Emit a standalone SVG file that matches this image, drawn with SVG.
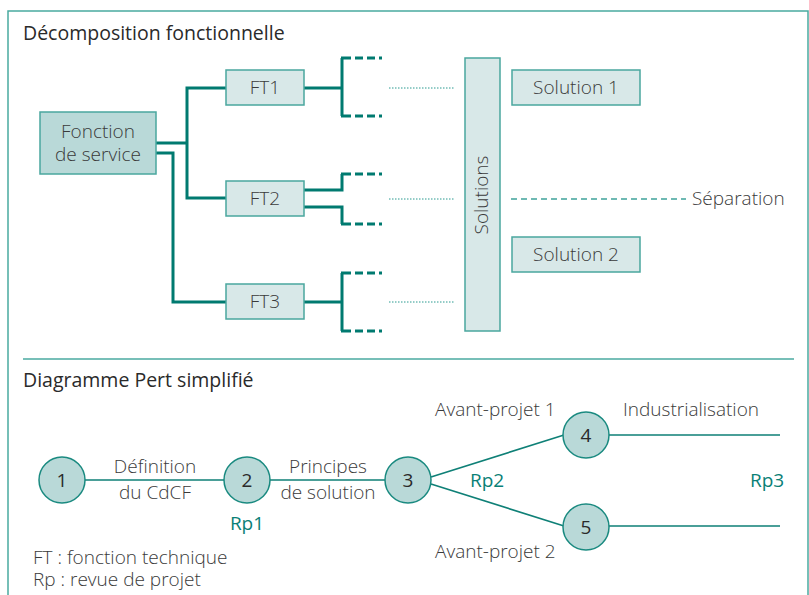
<svg xmlns="http://www.w3.org/2000/svg" width="809" height="595" viewBox="0 0 809 595">
<style>
text{font-family:"Open Sans","Noto Sans","Liberation Sans",sans-serif;fill:#3a3a3a;font-size:19px;font-weight:300}
.h{font-size:19.5px;font-weight:400;fill:#2a2a2a}
.c{text-anchor:middle}
.n{font-weight:400;fill:#2a2a2a}
.t{fill:#0a8076;font-weight:400}
.box{fill:#d8e8e8;stroke:#4aa79e;stroke-width:1.5}
.main{fill:#b9d9d8;stroke:#4aa79e;stroke-width:1.5}
.thick{fill:none;stroke:#007a70;stroke-width:3}
.dash{fill:none;stroke:#007a70;stroke-width:3;stroke-dasharray:8 4}
.dot{stroke:#2a9a90;stroke-width:1;stroke-dasharray:1.5 1.5}
.thin{fill:none;stroke:#0f8077;stroke-width:1.6}
.circ{fill:#b9d9d8;stroke:#1a8a80;stroke-width:1.5}
.frame{fill:none;stroke:#4aaaa0;stroke-width:1.5}
</style>
<g id="frame">
<path class="frame" d="M8,595 V11 H808 V595"/>
<line class="frame" x1="23" y1="359" x2="794" y2="359"/>
</g>
<text class="h" x="23" y="40">Décomposition fonctionnelle</text>
<text class="h" x="23" y="387">Diagramme Pert simplifié</text>
<g id="connectors">
<path class="thick" d="M156,143 H187 M226,88 H187 V198 H226"/>
<path class="thick" d="M156,153 H173 V302 H226"/>
<path class="thick" d="M304,88 H342 M342,58 V116"/>
<path class="thick" d="M304,190 H342 V174 M304,207 H342 V224"/>
<path class="thick" d="M304,302 H342 M342,273 V331"/>
<path class="thick" d="M341,58 H351 M341,116 H351 M341,174 H351 M341,224 H351 M341,273 H351 M341,331 H351"/>
<path class="dash" d="M355,58 H382 M355,116 H382 M355,174 H382 M355,224 H382 M355,273 H382 M355,331 H382"/>
<path class="dot" d="M389,88 H455 M389,199 H455 M389,302 H455"/>
<line x1="511" y1="199" x2="686" y2="199" stroke="#3fa39a" stroke-width="1.5" stroke-dasharray="6 4"/>
<path class="thin" d="M85,480 H224 M270,480 H385 M431,477 L564,435 M431,484 L564,526 M609,435 H780 M609,526 H780"/>
</g>
<g id="fs"><rect class="main" x="40" y="112" width="116" height="62"/><text class="c" x="98" y="138">Fonction</text><text class="c" x="98" y="161">de service</text></g>
<g id="ft1"><rect class="box" x="226" y="70" width="78" height="35"/><text class="c" x="265" y="94">FT1</text></g>
<g id="ft2"><rect class="box" x="226" y="181" width="78" height="35"/><text class="c" x="265" y="205">FT2</text></g>
<g id="ft3"><rect class="box" x="226" y="284" width="78" height="35"/><text class="c" x="265" y="308">FT3</text></g>
<g id="solutions"><rect class="box" x="465" y="58" width="35" height="273"/><text class="c" transform="translate(488,195) rotate(-90)">Solutions</text></g>
<g id="sol1"><rect class="box" x="512" y="70" width="128" height="35"/><text class="c" x="576" y="94">Solution 1</text></g>
<g id="sol2"><rect class="box" x="512" y="237" width="128" height="35"/><text class="c" x="576" y="261">Solution 2</text></g>
<text x="692" y="205">Séparation</text>
<g id="n1"><circle class="circ" cx="62" cy="480" r="23"/><text class="c n" x="62" y="487">1</text></g>
<g id="n2"><circle class="circ" cx="247" cy="480" r="23"/><text class="c n" x="247" y="487">2</text></g>
<g id="n3"><circle class="circ" cx="408" cy="480" r="23"/><text class="c n" x="408" y="487">3</text></g>
<g id="n4"><circle class="circ" cx="586" cy="435" r="23"/><text class="c n" x="586" y="442">4</text></g>
<g id="n5"><circle class="circ" cx="586" cy="527" r="23"/><text class="c n" x="586" y="534">5</text></g>
<text class="c" x="155" y="473">Définition</text>
<text class="c" x="155" y="499">du CdCF</text>
<text class="c" x="328" y="473">Principes</text>
<text class="c" x="328" y="499">de solution</text>
<text class="c t" x="247" y="530">Rp1</text>
<text x="435" y="416">Avant-projet 1</text>
<text x="623" y="416">Industrialisation</text>
<text class="t" x="470" y="487">Rp2</text>
<text class="t" x="750" y="487">Rp3</text>
<text x="435" y="558">Avant-projet 2</text>
<text x="33" y="564">FT : fonction technique</text>
<text x="33" y="586">Rp : revue de projet</text>
</svg>
